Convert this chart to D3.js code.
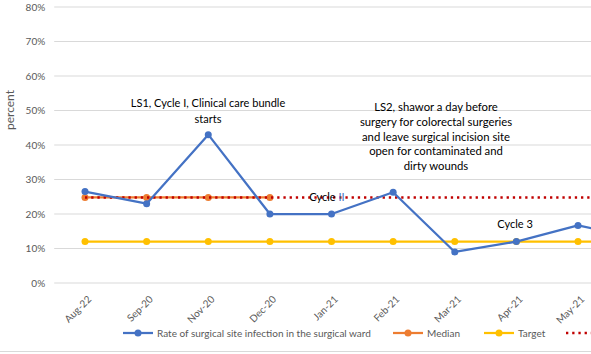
<!DOCTYPE html>
<html><head><meta charset="utf-8">
<script src="https://cdn.jsdelivr.net/npm/d3@7"></script>
<style>
html,body{margin:0;padding:0;background:#fff;overflow:hidden}
svg{display:block;font-family:Lato,"Open Sans",sans-serif}
</style></head>
<body><svg id="c" width="591" height="354"></svg>
<script>
const categories = ["Aug-22","Sep-20","Nov-20","Dec-20","Jan-21","Feb-21","Mar-21","Apr-21","May-21","Jun-21"];
const rate = [0.265,0.23,0.43,0.20,0.20,0.263,0.09,0.12,0.167,0.13];
const median = [0.248,0.248,0.248,0.248,null,null,null,null,null,null];
const target = [0.12,0.12,0.12,0.12,0.12,0.12,0.12,0.12,0.12,0.12];
const medianExt = [0.248,0.248,0.248,0.248,0.248,0.248,0.248,0.248,0.248,0.248];
const yTicks = [0,0.1,0.2,0.3,0.4,0.5,0.6,0.7,0.8];
const seriesNames = ["Rate of surgical site infection in the surgical ward","Median","Target"];

const svg = d3.select("#c");
const left = 54.2, step = 61.625;
const x = d3.scalePoint().domain(categories).range([left + step/2, left + step*(categories.length-0.5)]);
const y = d3.scaleLinear().domain([0,0.8]).range([283,7]);
const right = left + step*categories.length;

// grid
svg.append("g").selectAll("line").data(yTicks).join("line")
  .attr("x1",left).attr("x2",right)
  .attr("y1",d=>y(d)).attr("y2",d=>y(d))
  .attr("stroke","#d9d9d9").attr("stroke-width",1);

// y axis labels
const yAxis = d3.axisLeft(y).tickValues(yTicks).tickFormat(d3.format(".0%")).tickSize(0).tickPadding(9);
const ya = svg.append("g").attr("transform",`translate(${left},0)`).call(yAxis);
ya.select(".domain").remove();
ya.selectAll("text").attr("fill","#595959").style("font-size","10px").style("font-family","Lato,sans-serif");

// x axis labels
const xa = svg.append("g");
xa.selectAll("text").data(categories).join("text")
  .attr("transform",d=>`translate(${x(d)+4.5},297.5) rotate(-45)`)
  .attr("text-anchor","end").attr("dy","0.35em")
  .attr("fill","#595959").style("font-size","10px").text(d=>d);

svg.append("text").attr("transform","translate(14,110) rotate(-90)")
  .attr("text-anchor","middle").attr("fill","#595959").style("font-size","12px").text("percent");

const lineI = (arr)=> d3.line().defined(d=>d.v!=null).x(d=>x(d.c)).y(d=>y(d.v))(arr.map((v,i)=>({c:categories[i],v})));

const plot = svg.append("g");
// target
plot.append("path").attr("d",lineI(target)).attr("fill","none").attr("stroke","#FFC000").attr("stroke-width",2.25);
plot.selectAll(".tm").data(target.map((v,i)=>({c:categories[i],v}))).join("circle")
  .attr("cx",d=>x(d.c)).attr("cy",d=>y(d.v)).attr("r",3.5).attr("fill","#FFC000");
// median
plot.append("path").attr("d",lineI(median)).attr("fill","none").attr("stroke","#ED7D31").attr("stroke-width",2.25);
plot.selectAll(".mm").data(median.map((v,i)=>({c:categories[i],v})).filter(d=>d.v!=null)).join("circle")
  .attr("cx",d=>x(d.c)).attr("cy",d=>y(d.v)).attr("r",3.5).attr("fill","#ED7D31");
// red dotted extended median
plot.append("path").attr("d",lineI(medianExt)).attr("fill","none").attr("stroke","#C00000")
  .attr("stroke-width",2.5).attr("stroke-dasharray","2.3 3.9");
// rate
plot.append("path").attr("d",lineI(rate)).attr("fill","none").attr("stroke","#4472C4").attr("stroke-width",2.25).attr("stroke-linejoin","round");
plot.selectAll(".rm").data(rate.map((v,i)=>({c:categories[i],v}))).join("circle")
  .attr("cx",d=>x(d.c)).attr("cy",d=>y(d.v)).attr("r",3.5).attr("fill","#4472C4");

// annotations
const ann = svg.append("g").attr("fill","#000").attr("text-anchor","middle");
function multi(xc, y0, lh, fs, lines){
  const t = ann.append("text").style("font-size",fs+"px");
  lines.forEach((l,i)=>t.append("tspan").attr("x",xc).attr("y",y0+i*lh).text(l));
}
multi(208,107,16,11,["LS1, Cycle I, Clinical care bundle","starts"]);
multi(436,111,14.8,11.3,["LS2, shawor a day before","surgery for colorectal surgeries","and leave surgical incision site","open for contaminated and","dirty wounds"]);
const c2 = ann.append("text").attr("x",327).attr("y",201).style("font-size","11px");
c2.append("tspan").text("Cycle ");
c2.append("tspan").attr("fill","#4472C4").text("II");
ann.append("text").attr("x",515).attr("y",228).style("font-size","11px").text("Cycle 3");

// legend
const lg = svg.append("g").style("font-size","10px").attr("fill","#595959");
const items = [
  {name:seriesNames[0], color:"#4472C4", x0:123},
  {name:seriesNames[1], color:"#ED7D31", x0:393},
  {name:seriesNames[2], color:"#FFC000", x0:484}
];
items.forEach(it=>{
  lg.append("line").attr("x1",it.x0).attr("x2",it.x0+30).attr("y1",333).attr("y2",333).attr("stroke",it.color).attr("stroke-width",2.25);
  lg.append("circle").attr("cx",it.x0+15).attr("cy",333).attr("r",3.5).attr("fill",it.color);
  lg.append("text").attr("x",it.x0+34).attr("y",333).attr("dy","0.35em").text(it.name);
});
lg.append("line").attr("x1",566).attr("x2",600).attr("y1",333).attr("y2",333).attr("stroke","#C00000")
  .attr("stroke-width",2.5).attr("stroke-dasharray","2.3 3.9");

// chart border bottom
svg.append("line").attr("x1",0).attr("x2",591).attr("y1",351.5).attr("y2",351.5).attr("stroke","#d9d9d9");
</script></body></html>
